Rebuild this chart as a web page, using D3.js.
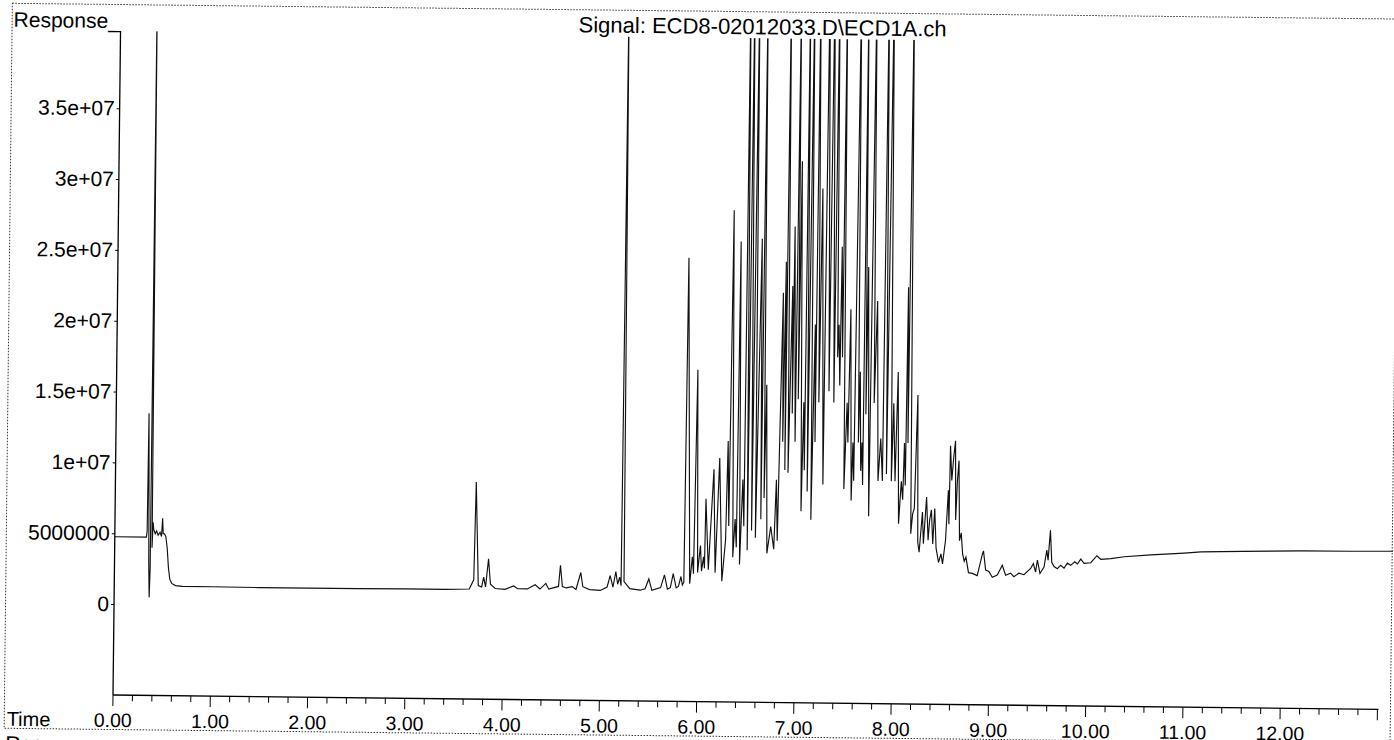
<!DOCTYPE html>
<html><head><meta charset="utf-8">
<script src="https://cdn.jsdelivr.net/npm/d3@7"></script>
<style>
html,body{margin:0;padding:0;background:#fff;}
svg{display:block;}
text{font-family:"Liberation Sans",Arial,sans-serif;fill:#000;}
</style></head>
<body>
<svg id="chart" width="1394" height="740"></svg>
<script>
// ---- data (time in minutes, response in millions of counts) ----
const times = [
0.00,0.325,0.332,0.338,0.345,0.352,0.36,0.367,0.374,0.384,0.392,0.40,0.415,0.43,0.445,0.465,0.48,0.49,0.497,0.51,0.525,0.54,0.555,0.57,0.59,0.63,0.70,1.00,1.50,2.00,2.50,3.00,3.40,3.65,
3.695,3.71,3.742,3.777,3.797,3.817,3.845,3.867,3.917,4.017,4.107,4.147,4.247,4.327,4.377,4.437,4.467,4.567,4.585,4.607,4.647,4.707,4.747,4.795,4.817,4.887,4.997,5.067,5.097,5.127,5.155,5.175,5.195,5.21,5.225,5.24,5.30,5.407,5.457,5.495,5.527,5.617,5.655,5.687,5.717,5.745,5.777,5.80,5.825,5.84,5.855,
5.87,5.915,5.94,5.953,5.975,5.995,6.022,6.035,6.055,6.065,6.073,6.105,6.152,6.175,6.21,6.245,6.279,6.295,6.31,6.33,6.355,6.375,6.39,6.405,6.425,6.45,6.465,6.478,6.502,6.519,6.545,6.57,6.585,6.622,6.639,6.655,6.67,6.685,6.705,6.742,6.775,6.795,6.81,6.845,6.855,6.872,6.88,6.895,6.913,6.941,6.95,6.958,6.982,6.999,7.01,7.025,7.051,7.068,7.08,7.092,7.112,7.136,7.153,7.177,7.187,7.198,7.222,7.239,7.273,7.291,7.325,7.342,7.376,7.393,7.41,7.421,7.435,7.445,7.46,7.472,7.489,7.513,7.525,7.541,7.565,7.577,7.589,7.616,7.633,7.645,7.66,7.671,7.681,7.692,7.707,7.719,7.747,7.774,7.791,7.815,7.839,7.863,7.884,7.901,7.925,7.952,7.976,7.993,8.014,8.035,8.055,8.079,8.095,8.107,8.12,8.131,8.143,8.158,8.182,8.199,8.216,8.24,8.255,8.27,
8.30,8.313,8.341,8.361,8.375,8.392,8.409,8.426,8.444,8.471,8.495,8.512,8.54,8.564,8.573,8.581,8.598,8.615,8.632,8.642,8.656,8.67,8.684,8.701,8.718,8.735,8.752,8.78,
8.819,8.87,8.922,8.932,8.956,8.99,9.025,9.076,9.127,9.162,9.213,9.247,9.299,9.35,9.419,9.446,9.47,9.487,9.515,9.556,9.583,9.597,9.618,9.635,9.659,9.693,9.727,9.762,9.796,9.83,9.871,9.899,9.933,9.967,10.036,10.098,10.139,10.242,10.379,10.653,10.996,11.168,11.6,12.2,12.7,13.14
];
const responseMillions = [
4.75,4.75,5.2,13.5,9.0,3.0,0.5,2.5,45,4.0,5.8,5.3,5.0,5.2,4.9,5.1,4.8,6.1,5.0,5.0,4.8,4.0,2.6,1.8,1.5,1.35,1.3,1.3,1.28,1.28,1.28,1.3,1.3,1.35,
2.0,8.9,1.6,1.5,2.2,1.5,3.5,1.7,1.4,1.35,1.6,1.4,1.4,1.7,1.4,1.8,1.4,1.6,3.1,1.6,1.5,1.6,1.4,2.6,1.6,1.4,1.35,1.6,2.4,1.6,2.7,1.8,2.3,1.7,45,2.0,1.5,1.4,1.5,2.2,1.4,1.6,2.5,1.5,1.6,2.6,1.6,1.7,2.4,1.8,2.0,
24.9,1.9,3.8,2.6,17.0,2.7,4.6,2.8,3.8,3.0,7.9,2.9,10.0,2.7,10.8,2.1,5.0,12.0,6.0,28.3,3.8,6.5,4.5,26.1,3.3,9.3,6.0,45,4.3,45,5.7,45,5.2,26.3,6.5,45,8.0,16.0,4.1,6.0,4.4,9.3,5.0,22.5,12.0,24.7,10.0,45,9.8,23.0,14.0,27.2,12.0,45,15.0,31.8,7.1,14.8,10.0,45,8.5,45,6.5,20.3,12.0,45,14.8,29.9,9.0,45,15.6,45,14.8,45,18.0,20.3,16.0,25.8,18.0,45,8.7,14.8,12.0,21.4,7.9,12.0,9.3,45,12.0,17.0,10.0,12.0,9.0,45,14.0,24.4,6.8,45,14.8,22.0,9.3,12.3,9.3,45,9.8,45,9.3,14.8,9.3,17.0,6.3,9.3,8.0,12.0,9.0,23.0,12.0,45,5.6,7.0,7.4,15.4,5.0,4.3,
7.15,4.9,8.2,5.15,6.6,7.3,4.9,7.4,4.6,3.6,4.2,3.5,5.15,8.7,6.3,11.85,9.4,11.0,12.2,6.6,9.4,10.8,5.15,5.7,4.2,3.7,4.0,2.9,
2.85,2.7,4.25,4.45,3.1,3.0,2.6,2.75,3.45,2.75,2.9,2.65,2.9,2.8,3.25,3.6,3.0,3.85,2.9,3.35,4.55,3.85,5.95,3.7,3.4,3.25,3.5,3.3,3.65,3.5,3.75,3.6,3.95,3.65,3.7,4.2,3.95,4.0,4.15,4.3,4.45,4.55,4.62,4.7,4.72,4.75
];
const xMajorTicks = [0,1,2,3,4,5,6,7,8,9,10,11,12,13];
const xTickLabels = ["0.00","1.00","2.00","3.00","4.00","5.00","6.00","7.00","8.00","9.00","10.00","11.00","12.00",""];
const yTickValues = [0,5e6,1e7,1.5e7,2e7,2.5e7,3e7,3.5e7];
const yTickLabels = ["0","5000000","1e+07","1.5e+07","2e+07","2.5e+07","3e+07","3.5e+07"];
const titleText = "Signal: ECD8-02012033.D\\ECD1A.ch";

// ---- layout ----
const X0 = 113, X1 = 1377.5, Y0 = 695, YTOP = 31;
const x = d3.scaleLinear().domain([0,13]).range([X0,X1]);
const y = d3.scaleLinear().domain([-6.42e6, 40.45e6]).range([Y0, YTOP]);

const svg = d3.select("#chart");
const root = svg.append("g").attr("transform", "rotate(0.65 113 695)");

// dotted frame
root.append("rect").attr("x",4.5).attr("y",4.5).attr("width",1386).attr("height",725)
  .attr("fill","none").attr("stroke","#333").attr("stroke-width",1).attr("stroke-dasharray","1.5,1.5");

// header texts
root.append("text").attr("x",6).attr("y",28).attr("font-size",21).text("Response_");
root.append("text").attr("x",755).attr("y",27).attr("font-size",22).attr("text-anchor","middle").text(titleText);
root.append("text").attr("x",6).attr("y",752).attr("font-size",21).text("Response_");

// clip
const defs = svg.append("defs");
defs.append("clipPath").attr("id","plotclip").append("rect")
  .attr("x",X0).attr("y",YTOP).attr("width",1392-X0).attr("height",Y0-YTOP);

// data line
const pts = times.map((t,i)=>[t, responseMillions[i]*1e6]);
const line = d3.line().x(d=>x(d[0])).y(d=>y(d[1]));
root.append("path").datum(pts).attr("clip-path","url(#plotclip)")
  .attr("d",line).attr("fill","none").attr("stroke","#111").attr("stroke-width",1.15)
  .attr("stroke-linejoin","miter");

// y axis
const yAxis = d3.axisLeft(y).tickValues(yTickValues).tickSize(3).tickPadding(2)
  .tickFormat((d,i)=>yTickLabels[i]);
const gy = root.append("g").attr("transform",`translate(${X0},0)`).call(yAxis);
gy.select(".domain").remove();
gy.selectAll("text").attr("font-size",21).attr("font-family","Liberation Sans, Arial, sans-serif").attr("fill","#000");
gy.selectAll("line").attr("stroke","#000");
root.append("line").attr("x1",X0).attr("x2",X0).attr("y1",YTOP).attr("y2",Y0).attr("stroke","#000").attr("stroke-width",1.3);

// x axis
root.append("line").attr("x1",X0).attr("x2",X1+1).attr("y1",Y0).attr("y2",Y0).attr("stroke","#000").attr("stroke-width",1.3);
const minor = d3.range(0,65).map(i=>i*0.2).filter(v=>Math.abs(v-Math.round(v))>1e-6);
root.append("g").selectAll("line").data(minor).join("line")
  .attr("x1",d=>x(d)).attr("x2",d=>x(d)).attr("y1",Y0).attr("y2",Y0+6).attr("stroke","#000");
root.append("g").selectAll("line").data(xMajorTicks).join("line")
  .attr("x1",d=>x(d)).attr("x2",d=>x(d)).attr("y1",Y0).attr("y2",Y0+11).attr("stroke","#000");
root.append("g").selectAll("text").data(xMajorTicks).join("text")
  .attr("x",d=>x(d)).attr("y",727).attr("text-anchor","middle").attr("font-size",19.5)
  .text((d,i)=>xTickLabels[i]);
root.append("text").attr("x",7).attr("y",727).attr("font-size",20).text("Time");
</script>
</body></html>
